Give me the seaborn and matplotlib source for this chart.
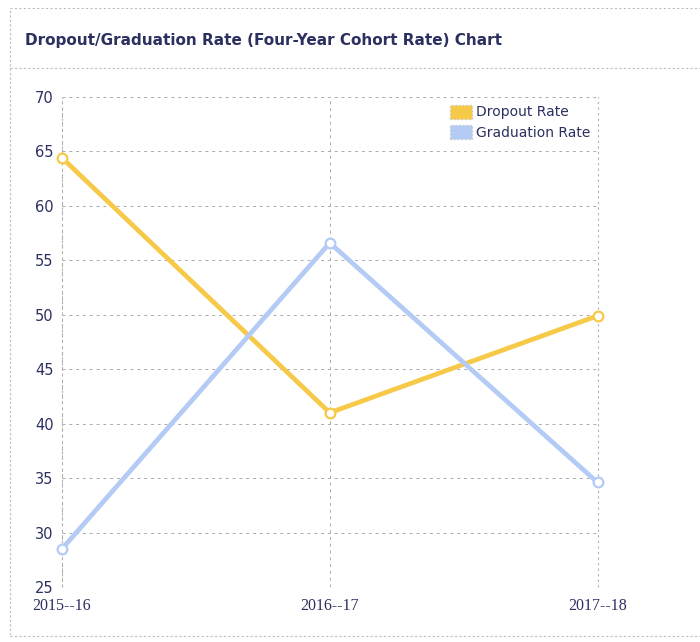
import matplotlib
matplotlib.use("Agg")
import matplotlib.pyplot as plt
from matplotlib.patches import Rectangle, Patch
from matplotlib.lines import Line2D
import seaborn as sns
import pandas as pd

years = ["2015--16", "2016--17", "2017--18"]
dropout_rate = [64.4, 41.0, 49.9]
graduation_rate = [28.5, 56.6, 34.6]
y_ticks = [25, 30, 35, 40, 45, 50, 55, 60, 65, 70]

df = pd.DataFrame({
    "Year": years * 2,
    "Rate": dropout_rate + graduation_rate,
    "Series": ["Dropout Rate"] * 3 + ["Graduation Rate"] * 3,
})

sns.set_style("white")
plt.rcParams["font.family"] = ["DejaVu Sans"]

navy = "#2b3060"
palette = {"Dropout Rate": "#f7c948", "Graduation Rate": "#b3cbf5"}

fig = plt.figure(figsize=(7.0, 6.42), dpi=100)
ax = fig.add_axes([0.0886, 0.0857, 0.765, 0.7633])

sns.lineplot(data=df, x="Year", y="Rate", hue="Series", palette=palette,
             sort=False, linewidth=3.4, marker="o", markersize=7,
             markerfacecolor="white", markeredgewidth=1.6, legend=False, ax=ax)
for line, col in zip(ax.lines, palette.values()):
    line.set_markeredgecolor(col)
    line.set_clip_on(False)
    line.set_zorder(5)

ax.set_ylim(25, 70)
ax.set_xlim(0.0, 2.0)
ax.set_yticks(y_ticks)
ax.set_xticks(range(len(years)))
ax.set_xticklabels(years, family="Liberation Serif", fontsize=11.5, color=navy)
ax.tick_params(axis="y", labelsize=10.5, labelcolor=navy, length=0, pad=6)
ax.tick_params(axis="x", length=0, pad=8)
ax.set_xlabel("")
ax.set_ylabel("")
ax.grid(True, linestyle=(0, (3, 4)), color="#ababab", linewidth=0.7)
for s in ax.spines.values():
    s.set_visible(False)
for xv in (0, 2):
    ax.axvline(xv, color="#b0b0b0", linestyle=(0, (2, 3)), linewidth=0.8, clip_on=False)
ax.axhline(25, color="#b0b0b0", linestyle=(0, (2, 3)), linewidth=0.8)

handles = [Patch(facecolor=palette[k], edgecolor="#c8c8c8", linestyle=":", label=k)
           for k in palette]
leg = ax.legend(handles=handles, loc="upper right", bbox_to_anchor=(1.01, 1.01),
                frameon=False, fontsize=10, handlelength=1.6, handleheight=1.2,
                handletextpad=0.3, labelspacing=0.4)
for t in leg.get_texts():
    t.set_color(navy)

# panel frame and title band
fig.patches.append(Rectangle((10 / 700, 1 - 636 / 642), 700, 628 / 642,
                             transform=fig.transFigure, fill=False,
                             edgecolor="#bdbdbd", linestyle=(0, (2, 2)), linewidth=0.8))
fig.add_artist(Line2D([10 / 700, 1.0], [1 - 68 / 642] * 2, transform=fig.transFigure,
                      color="#bdbdbd", linestyle=(0, (2, 2)), linewidth=0.8))
fig.text(25 / 700, 1 - 40 / 642, "Dropout/Graduation Rate (Four-Year Cohort Rate) Chart",
         fontsize=11, fontweight="bold", color=navy, va="center", ha="left")

fig.savefig("out.png", dpi=100, facecolor="white")
